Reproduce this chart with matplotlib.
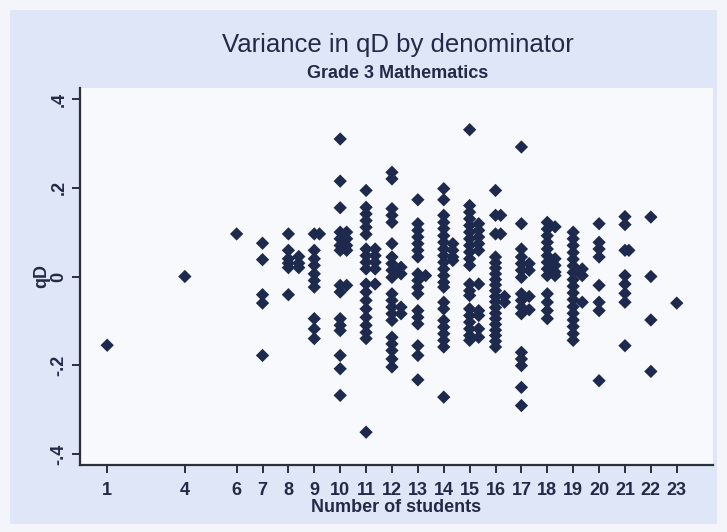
import matplotlib
matplotlib.use("Agg")
import matplotlib.pyplot as plt
from matplotlib.patches import Rectangle

plt.rcParams['font.family'] = ['Liberation Sans', 'DejaVu Sans']

title = "Variance in qD by denominator"
subtitle = "Grade 3 Mathematics"
xlabel = "Number of students"
ylabel = "qD"
xticks = [1, 4, 6, 7, 8, 9, 10, 11, 12, 13, 14, 15, 16, 17, 18, 19, 20, 21, 22, 23]
yticks = [-0.4, -0.2, 0.0, 0.2, 0.4]
ytick_labels = ["-.4", "-.2", "0", ".2", ".4"]

# number of students (denominator) for each group of points
group_students = [1, 4, 6, 7, 8, 8.4, 9, 9.2, 10, 10.25, 11, 11.35, 12, 12.35, 13, 13.3,
                  14, 14.35, 15, 15.35, 16, 16.2, 16.35, 17, 17.3, 18, 18.3, 19, 19.35,
                  20, 21, 21.15, 22, 23]
# qD values for each group
group_qd = [
    [-0.155],
    [0.0],
    [0.096],
    [0.075, 0.038, -0.041, -0.060, -0.178],
    [0.096, 0.059, 0.040, 0.030, 0.020, -0.041],
    [0.045, 0.030, 0.020],
    [0.096, 0.059, 0.040, 0.025, 0.006, -0.009, -0.024, -0.095, -0.118, -0.140],
    [0.096],
    [0.310, 0.215, 0.155, 0.100, 0.085, 0.070, 0.059, -0.020, -0.035, -0.095,
     -0.110, -0.122, -0.178, -0.208, -0.268],
    [0.100, 0.085, 0.070, 0.059, -0.020],
    [0.194, 0.156, 0.141, 0.126, 0.111, 0.095, 0.062, 0.047, 0.032, 0.017, -0.017,
     -0.035, -0.054, -0.073, -0.092, -0.110, -0.126, -0.140, -0.351],
    [0.062, 0.047, 0.032, 0.017, -0.017],
    [0.235, 0.220, 0.153, 0.138, 0.122, 0.074, 0.044, 0.029, 0.014, -0.002, -0.039,
     -0.054, -0.069, -0.084, -0.099, -0.137, -0.152, -0.167, -0.186, -0.204],
    [0.021, 0.006, -0.069, -0.084],
    [0.173, 0.119, 0.104, 0.089, 0.074, 0.059, 0.044, 0.006, -0.009, -0.024, -0.039,
     -0.077, -0.092, -0.107, -0.156, -0.178, -0.233],
    [0.002],
    [0.198, 0.173, 0.138, 0.122, 0.108, 0.092, 0.077, 0.062, 0.047, 0.032, 0.017,
     0.002, -0.013, -0.024, -0.058, -0.073, -0.099, -0.114, -0.129, -0.144, -0.159,
     -0.272],
    [0.074, 0.059, 0.044, 0.036],
    [0.331, 0.160, 0.145, 0.130, 0.115, 0.100, 0.085, 0.070, 0.055, 0.040, 0.025,
     -0.017, -0.032, -0.043, -0.073, -0.088, -0.103, -0.118, -0.133, -0.144],
    [0.119, 0.104, 0.089, 0.074, 0.059, -0.017, -0.077, -0.088, -0.118, -0.137],
    [0.194, 0.138, 0.096, 0.044, 0.031, 0.019, 0.006, -0.007, -0.019, -0.032, -0.045,
     -0.057, -0.070, -0.083, -0.095, -0.108, -0.121, -0.133, -0.146, -0.159],
    [0.138, 0.096],
    [-0.058, -0.045],
    [0.292, 0.119, 0.062, 0.044, 0.029, 0.014, -0.002, -0.039, -0.054, -0.069, -0.084,
     -0.171, -0.186, -0.201, -0.250, -0.291],
    [0.029, 0.014, -0.045, -0.075],
    [0.122, 0.107, 0.092, 0.077, 0.062, 0.047, 0.032, 0.017, 0.002, -0.039, -0.058,
     -0.077, -0.095],
    [0.112, 0.040, 0.025, 0.010, 0.002],
    [0.100, 0.085, 0.070, 0.054, 0.039, 0.024, 0.009, -0.007, -0.022, -0.037, -0.052,
     -0.068, -0.083, -0.098, -0.113, -0.129, -0.144],
    [0.017, 0.002, -0.058],
    [0.119, 0.077, 0.062, 0.044, -0.020, -0.058, -0.077, -0.235],
    [0.135, 0.117, 0.059, 0.002, -0.017, -0.038, -0.058, -0.156],
    [0.059],
    [0.134, 0.0, -0.098, -0.214],
    [-0.060],
]

xs, ys = [], []
for n, vals in zip(group_students, group_qd):
    xs.extend([n] * len(vals))
    ys.extend(vals)

outer_bg = '#f3f5fb'
graph_bg = '#dfe6f7'
plot_bg = '#f7f9fd'
marker_color = '#1d2a4d'
text_color = '#222a48'

fig = plt.figure(figsize=(7.27, 5.32), dpi=100, facecolor=outer_bg)
fig.patches.append(Rectangle((10 / 727, 8 / 532), 707 / 727, 514 / 532,
                             transform=fig.transFigure, facecolor=graph_bg,
                             edgecolor='none', zorder=-10))

ax = fig.add_axes([80 / 727, 67 / 532, 633 / 727, 377 / 532])
ax.set_zorder(5)
ax.set_facecolor(plot_bg)
ax.scatter(xs, ys, marker='D', s=46, color=marker_color, edgecolors='none', zorder=3)

ax.set_xlim(-0.05, 24.4)
ax.set_ylim(-0.425, 0.425)
ax.set_xticks(xticks)
ax.set_xticklabels([str(t) for t in xticks], fontsize=13, fontweight='bold',
                   color=text_color)
ax.set_yticks(yticks)
ax.set_yticklabels(ytick_labels, fontsize=13, fontweight='bold', color=text_color,
                   rotation=90, va='center')
for s in ['top', 'right']:
    ax.spines[s].set_visible(False)
for s in ['left', 'bottom']:
    ax.spines[s].set_color('#2a2f3a')
    ax.spines[s].set_linewidth(1.6)
ax.tick_params(axis='x', length=6, width=1.4, color='#2a2f3a', pad=6)
ax.tick_params(axis='y', length=6, width=1.4, color='#2a2f3a', pad=3)

ax.set_xlabel(xlabel, fontsize=13, fontweight='bold', color=text_color, labelpad=0)
ax.set_ylabel(ylabel, fontsize=13, fontweight='bold', color=text_color, labelpad=0)

fig.text(398 / 727, 1 - 45 / 532, title, ha='center', va='center', fontsize=18.5,
         color=text_color, zorder=6)
fig.text(398 / 727, 1 - 73 / 532, subtitle, ha='center', va='center', fontsize=13,
         fontweight='bold', color=text_color, zorder=6)

fig.savefig('out.png', dpi=100, facecolor=fig.get_facecolor())
